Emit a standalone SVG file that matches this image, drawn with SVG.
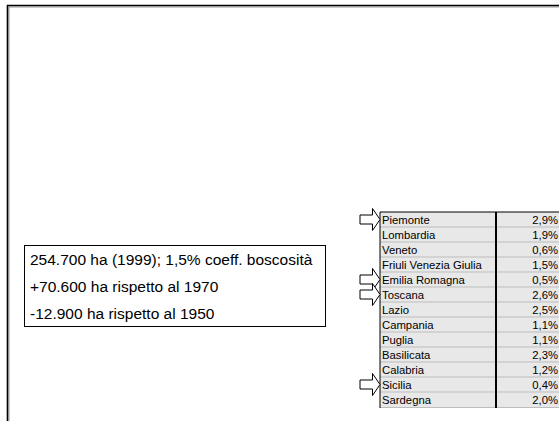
<svg xmlns="http://www.w3.org/2000/svg" width="559" height="421" viewBox="0 0 559 421">
<style>
.reg{font-family:"Liberation Sans",Arial,sans-serif;font-size:11.3px;fill:#000}
.val{font-family:"Liberation Sans",Arial,sans-serif;font-size:11.3px;fill:#000;text-anchor:end}
.sep{stroke:#bdbdbd;stroke-width:1}
.arrow{fill:#fff;stroke:#000;stroke-width:1}
.note{font-family:"Liberation Sans",Arial,sans-serif;font-size:15.5px;fill:#000}
</style>
<defs>
<path id="arr" d="M0,-4.5 H12.5 V-11 L20,0 L12.5,11 V4.5 H0 Z"/>
</defs>
<rect width="559" height="421" fill="#fff"/>
<g id="frame">
<path d="M9,421 V7 H559" fill="none" stroke="#9a9a9a" stroke-width="1"/>
<path d="M7.5,421 V5.5 H559" fill="none" stroke="#000" stroke-width="1.6"/>
</g>
<g id="note">
<rect x="24.5" y="245.5" width="301" height="81" fill="#fff" stroke="#000" stroke-width="1"/>
<text class="note" x="30" y="265">254.700 ha (1999); 1,5% coeff. boscosità</text>
<text class="note" x="30" y="292">+70.600 ha rispetto al 1970</text>
<text class="note" x="30" y="319">-12.900 ha rispetto al 1950</text>
</g>
<g id="table">
<rect x="380" y="212" width="179" height="195" fill="#e8e8e8"/>
<g class="sep">
<line x1="380" y1="227" x2="559" y2="227"/>
<line x1="380" y1="242" x2="559" y2="242"/>
<line x1="380" y1="257" x2="559" y2="257"/>
<line x1="380" y1="272" x2="559" y2="272"/>
<line x1="380" y1="287" x2="559" y2="287"/>
<line x1="380" y1="302" x2="559" y2="302"/>
<line x1="380" y1="317" x2="559" y2="317"/>
<line x1="380" y1="332" x2="559" y2="332"/>
<line x1="380" y1="347" x2="559" y2="347"/>
<line x1="380" y1="362" x2="559" y2="362"/>
<line x1="380" y1="377" x2="559" y2="377"/>
<line x1="380" y1="392" x2="559" y2="392"/>
<line x1="380" y1="407.5" x2="559" y2="407.5"/>
</g>
<line x1="380" y1="212" x2="559" y2="212" stroke="#000" stroke-width="1"/>
<line x1="380" y1="212" x2="380" y2="408" stroke="#000" stroke-width="1"/>
<line x1="496" y1="212" x2="496" y2="408" stroke="#000" stroke-width="2"/>
<g id="rows">
<text class="reg" x="382" y="223.5">Piemonte</text><text class="val" x="558" y="223.5">2,9%</text>
<text class="reg" x="382" y="238.5">Lombardia</text><text class="val" x="558" y="238.5">1,9%</text>
<text class="reg" x="382" y="253.5">Veneto</text><text class="val" x="558" y="253.5">0,6%</text>
<text class="reg" x="382" y="268.5">Friuli Venezia Giulia</text><text class="val" x="558" y="268.5">1,5%</text>
<text class="reg" x="382" y="283.5">Emilia Romagna</text><text class="val" x="558" y="283.5">0,5%</text>
<text class="reg" x="382" y="298.5">Toscana</text><text class="val" x="558" y="298.5">2,6%</text>
<text class="reg" x="382" y="313.5">Lazio</text><text class="val" x="558" y="313.5">2,5%</text>
<text class="reg" x="382" y="328.5">Campania</text><text class="val" x="558" y="328.5">1,1%</text>
<text class="reg" x="382" y="343.5">Puglia</text><text class="val" x="558" y="343.5">1,1%</text>
<text class="reg" x="382" y="358.5">Basilicata</text><text class="val" x="558" y="358.5">2,3%</text>
<text class="reg" x="382" y="373.5">Calabria</text><text class="val" x="558" y="373.5">1,2%</text>
<text class="reg" x="382" y="388.5">Sicilia</text><text class="val" x="558" y="388.5">0,4%</text>
<text class="reg" x="382" y="403.5">Sardegna</text><text class="val" x="558" y="403.5">2,0%</text>
</g>
</g>
<g id="arrows">
<use href="#arr" class="arrow" transform="translate(360,219.5)"/>
<use href="#arr" class="arrow" transform="translate(360,279.5)"/>
<use href="#arr" class="arrow" transform="translate(360,294.5)"/>
<use href="#arr" class="arrow" transform="translate(360,384.5)"/>
</g>
</svg>
